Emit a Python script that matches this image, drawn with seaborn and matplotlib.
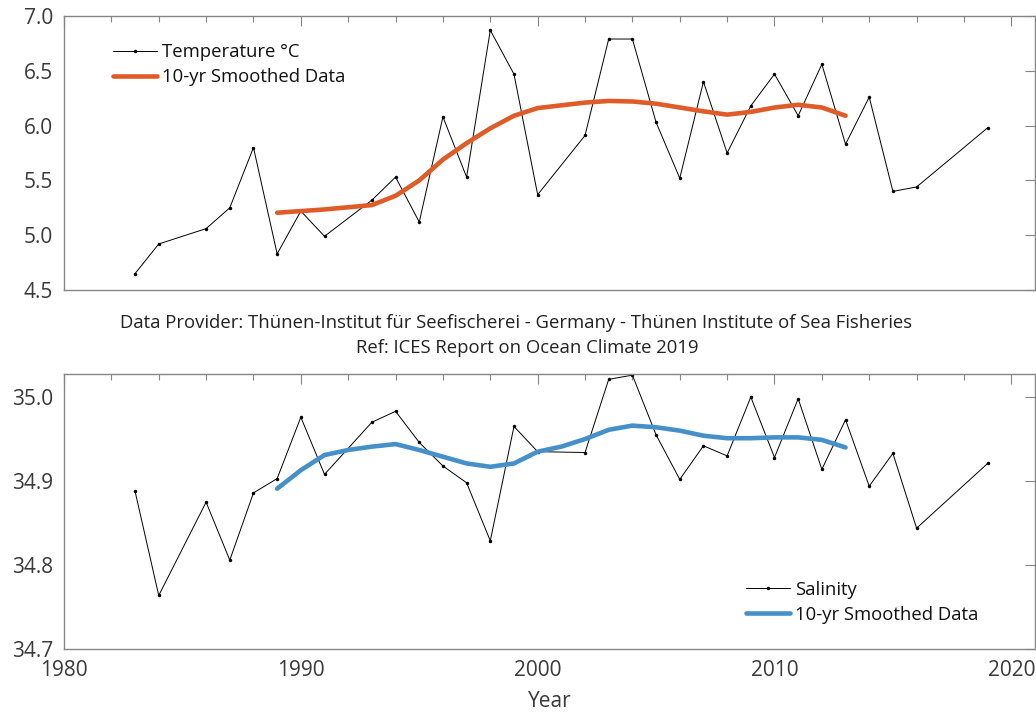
import numpy as np
import pandas as pd
import matplotlib
matplotlib.use("Agg")
import matplotlib.pyplot as plt
from matplotlib.ticker import MultipleLocator
import seaborn as sns

# ---- data ----
temp_years = [1983, 1984, 1986, 1987, 1988, 1989, 1990, 1991, 1993, 1994, 1995, 1996,
              1997, 1998, 1999, 2000, 2002, 2003, 2004, 2005, 2006, 2007, 2008, 2009,
              2010, 2011, 2012, 2013, 2014, 2015, 2016, 2019]
temp_values = [4.65, 4.92, 5.06, 5.25, 5.80, 4.83, 5.22, 4.99, 5.32, 5.53, 5.12, 6.08,
               5.53, 6.87, 6.47, 5.37, 5.91, 6.79, 6.79, 6.03, 5.52, 6.40, 5.75, 6.18,
               6.47, 6.09, 6.56, 5.83, 6.26, 5.40, 5.44, 5.98]

smooth_years = list(range(1989, 2014))
temp_smooth = [5.205, 5.22, 5.235, 5.255, 5.275, 5.36, 5.50, 5.69, 5.84, 5.975, 6.09, 6.16,
               6.185, 6.21, 6.225, 6.22, 6.20, 6.165, 6.13, 6.10, 6.125, 6.165, 6.19, 6.165, 6.09]

sal_years = temp_years
sal_values = [34.888, 34.764, 34.875, 34.806, 34.886, 34.903, 34.976, 34.908, 34.970, 34.983,
              34.946, 34.918, 34.898, 34.829, 34.965, 34.935, 34.934, 35.021, 35.026, 34.955,
              34.902, 34.942, 34.930, 35.000, 34.928, 34.998, 34.914, 34.973, 34.894, 34.933,
              34.844, 34.921]
sal_smooth = [34.891, 34.913, 34.931, 34.937, 34.941, 34.944, 34.937, 34.929, 34.921, 34.917,
              34.921, 34.935, 34.941, 34.950, 34.961, 34.966, 34.964, 34.960, 34.954, 34.951,
              34.951, 34.952, 34.952, 34.949, 34.940]

header_line1 = "Data Provider: Thünen-Institut für Seefischerei - Germany - Thünen Institute of Sea Fisheries"
header_line2 = "Ref: ICES Report on Ocean Climate 2019"

temp_df = pd.DataFrame({"Year": temp_years, "Value": temp_values})
temp_s_df = pd.DataFrame({"Year": smooth_years, "Value": temp_smooth})
sal_df = pd.DataFrame({"Year": sal_years, "Value": sal_values})
sal_s_df = pd.DataFrame({"Year": smooth_years, "Value": sal_smooth})

sns.set_theme(style="white")
plt.rcParams["font.family"] = ["Open Sans", "DejaVu Sans"]

ORANGE = "#DF5B27"
BLUE = "#4690C9"
SPINE = "#858585"
TXT = "#3a3a3a"

fig = plt.figure(figsize=(10.36, 7.12), dpi=100)
ax1 = fig.add_axes([64 / 1036, 1 - 290 / 712, 971 / 1036, 274 / 712])
ax2 = fig.add_axes([64 / 1036, 1 - 649.3 / 712, 971 / 1036, 275 / 712])

def style(ax):
    for sp in ax.spines.values():
        sp.set_color(SPINE)
        sp.set_linewidth(1.0)
    ax.set_xlim(1980, 2021)
    ax.xaxis.set_major_locator(MultipleLocator(10))
    ax.xaxis.set_minor_locator(MultipleLocator(2))
    ax.tick_params(axis="both", which="both", direction="in", top=True, right=True,
                   color=SPINE, labelcolor=TXT, labelsize=15, width=0.8)
    ax.tick_params(axis="both", which="major", length=7, pad=8)
    ax.tick_params(axis="x", which="minor", length=4)
    ax.set_ylabel("")

LEG = dict(frameon=False, fontsize=13.3, handlelength=2.35, handletextpad=0.3,
           labelspacing=0.38, borderaxespad=0.0, labelcolor="#111111")

# Top panel
sns.lineplot(data=temp_df, x="Year", y="Value", ax=ax1, color="black", linewidth=0.7,
             marker="o", markersize=2.5, markeredgewidth=0, label="Temperature °C")
sns.lineplot(data=temp_s_df, x="Year", y="Value", ax=ax1, color=ORANGE, linewidth=3.3,
             label="10-yr Smoothed Data")
style(ax1)
ax1.set_ylim(4.5, 7.0)
ax1.yaxis.set_major_locator(MultipleLocator(0.5))
ax1.yaxis.set_major_formatter(matplotlib.ticker.FormatStrFormatter("%.1f"))
ax1.set_xticklabels([])
ax1.set_xlabel("")
ax1.legend(loc="upper left", bbox_to_anchor=(42 / 971, 1 - 20 / 274), **LEG)

# Bottom panel
sns.lineplot(data=sal_df, x="Year", y="Value", ax=ax2, color="black", linewidth=0.7,
             marker="o", markersize=2.5, markeredgewidth=0, label="Salinity")
sns.lineplot(data=sal_s_df, x="Year", y="Value", ax=ax2, color=BLUE, linewidth=3.3,
             label="10-yr Smoothed Data")
style(ax2)
ax2.set_ylim(34.7, 35.027)
ax2.yaxis.set_major_locator(MultipleLocator(0.1))
ax2.yaxis.set_major_formatter(matplotlib.ticker.FormatStrFormatter("%.1f"))
ax2.set_xlabel("Year", fontsize=15, color=TXT, labelpad=7)
ax2.legend(loc="lower left", bbox_to_anchor=(675 / 971, 18 / 275), **LEG)

fig.text(516 / 1036, 1 - 323 / 712, header_line1, ha="center", va="center",
         fontsize=13.3, color="#222222")
fig.text(527 / 1036, 1 - 348 / 712, header_line2, ha="center", va="center",
         fontsize=13.3, color="#222222")

fig.savefig("out.png", dpi=100, facecolor="white")
